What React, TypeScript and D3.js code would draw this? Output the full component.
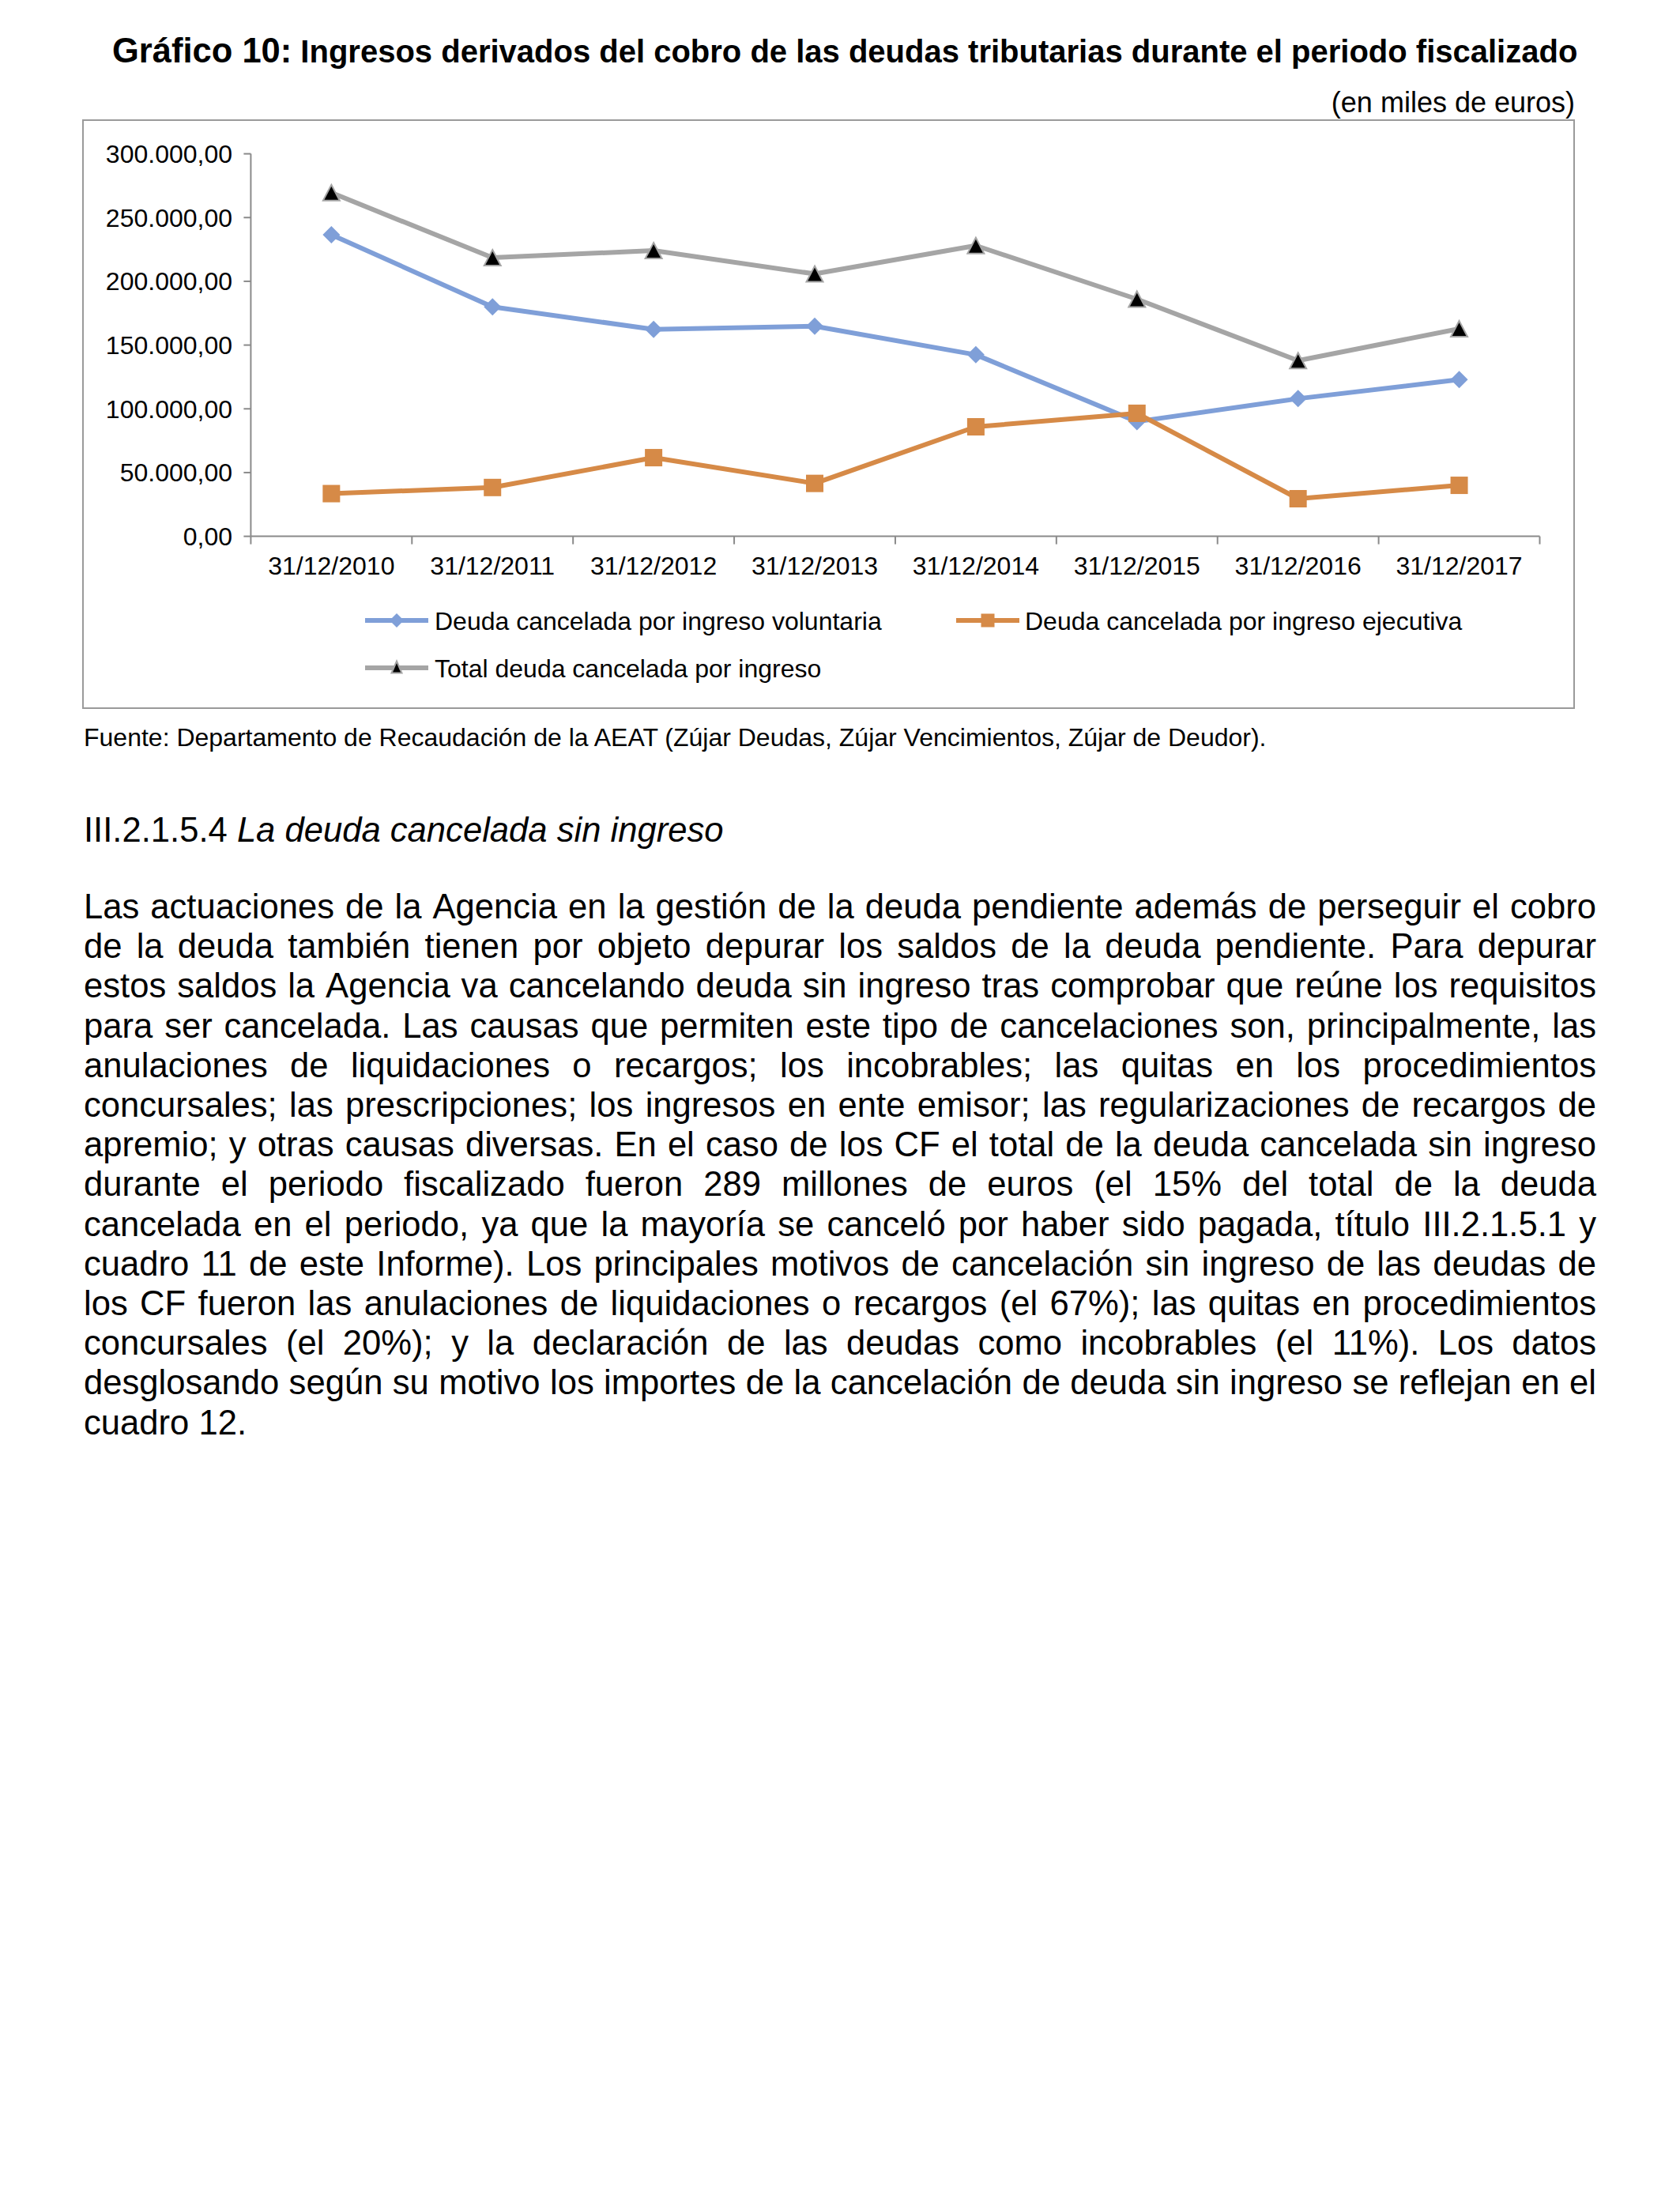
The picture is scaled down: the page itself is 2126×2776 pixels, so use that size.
import React, { useMemo } from "react";
import * as d3 from "d3";

const categories = [
  "31/12/2010", "31/12/2011", "31/12/2012", "31/12/2013",
  "31/12/2014", "31/12/2015", "31/12/2016", "31/12/2017",
];
const voluntaria = [236500, 180000, 162300, 164800, 142400, 90000, 108000, 122900];
const ejecutiva = [33500, 38300, 61700, 41500, 85900, 96500, 29500, 40000];
const total = [269500, 218500, 224100, 205800, 228000, 186000, 137800, 162800];
const yTicks = [0, 50000, 100000, 150000, 200000, 250000, 300000];

const seriesNames = [
  "Deuda cancelada por ingreso voluntaria",
  "Deuda cancelada por ingreso ejecutiva",
  "Total deuda cancelada por ingreso",
];

const titleBold = "Gráfico 10:";
const titleRest = "Ingresos derivados del cobro de las deudas tributarias durante el periodo fiscalizado";
const unitsText = "(en miles de euros)";
const sourceText = "Fuente: Departamento de Recaudación de la AEAT (Zújar Deudas, Zújar Vencimientos, Zújar de Deudor).";
const headingNum = "III.2.1.5.4 ";
const headingItalic = "La deuda cancelada sin ingreso";
const bodyLines = [
  "Las actuaciones de la Agencia en la gestión de la deuda pendiente además de perseguir el cobro",
  "de la deuda también tienen por objeto depurar los saldos de la deuda pendiente. Para depurar",
  "estos saldos la Agencia va cancelando deuda sin ingreso tras comprobar que reúne los requisitos",
  "para ser cancelada. Las causas que permiten este tipo de cancelaciones son, principalmente, las",
  "anulaciones de liquidaciones o recargos; los incobrables; las quitas en los procedimientos",
  "concursales; las prescripciones; los ingresos en ente emisor; las regularizaciones de recargos de",
  "apremio; y otras causas diversas. En el caso de los CF el total de la deuda cancelada sin ingreso",
  "durante el periodo fiscalizado fueron 289 millones de euros (el 15% del total de la deuda",
  "cancelada en el periodo, ya que la mayoría se canceló por haber sido pagada, título III.2.1.5.1 y",
  "cuadro 11 de este Informe). Los principales motivos de cancelación sin ingreso de las deudas de",
  "los CF fueron las anulaciones de liquidaciones o recargos (el 67%); las quitas en procedimientos",
  "concursales (el 20%); y la declaración de las deudas como incobrables (el 11%). Los datos",
  "desglosando según su motivo los importes de la cancelación de deuda sin ingreso se reflejan en el",
  "cuadro 12.",
];

const FONT = "'Liberation Sans', Arial, sans-serif";
const BLUE = "#7F9FD8";
const ORANGE = "#D68A47";
const GRAY = "#A5A5A5";
const AXIS = "#8A8A8A";

const fmt = (v: number) => {
  const s = d3.format(",.2f")(v);
  return s.replace(/,/g, "#").replace(/\./g, ",").replace(/#/g, ".");
};

function Diamond({ x, y, r, fill }: any) {
  return <path d={`M${x},${y - r}L${x + r},${y}L${x},${y + r}L${x - r},${y}Z`} fill={fill} />;
}
function Square({ x, y, s, fill }: any) {
  return <rect x={x - s / 2} y={y - s / 2} width={s} height={s} fill={fill} />;
}
function Tri({ x, y, w, h }: any) {
  return (
    <path
      d={`M${x},${y - h / 2}L${x + w / 2},${y + h / 2}L${x - w / 2},${y + h / 2}Z`}
      fill="#000"
      stroke={GRAY}
      strokeWidth={2}
    />
  );
}

export default function App() {
  const left = 317.4, right = 1948.5, top = 194.6, bottom = 678.6;
  const x = d3.scaleBand<string>().domain(categories).range([left, right]);
  const cx = (c: string) => (x(c) as number) + x.bandwidth() / 2;
  const y = d3.scaleLinear().domain([0, 300000]).range([bottom, top]);
  const line = d3
    .line<number>()
    .x((_, i) => cx(categories[i]))
    .y((d) => y(d));

  const bodyFont = 43.6;
  const bodyLeft = 106, bodyRight = 2020;
  const bodyTop = 1162, bodyStep = 50.2;
  const chartFont = 32;

  const justified = useMemo(() => {
    const canvas = document.createElement("canvas");
    const ctx = canvas.getContext("2d")!;
    ctx.font = `${bodyFont}px 'Liberation Sans', Arial, sans-serif`;
    return bodyLines.map((ln, li) => {
      const words = ln.split(" ");
      const widths = words.map((w) => ctx.measureText(w).width);
      const last = li === bodyLines.length - 1;
      const space = ctx.measureText(" ").width;
      const sum = widths.reduce((a, b) => a + b, 0);
      const gap = last || words.length < 2 ? space : (bodyRight - bodyLeft - sum) / (words.length - 1);
      let pos = bodyLeft;
      return words.map((w, i) => {
        const p = pos;
        pos += widths[i] + gap;
        return { w, x: p };
      });
    });
  }, []);

  const boundaries = d3.range(categories.length + 1).map((i) => left + i * x.bandwidth());

  return (
    <svg
      width={2126}
      height={2776}
      style={{ position: "absolute", left: 0, top: 0, background: "#fff" }}
      fontFamily={FONT}
    >
      <rect x={0} y={0} width={2126} height={2776} fill="#fff" />
      {/* Title */}
      <text x={142} y={79} fontWeight="bold" fill="#000">
        <tspan fontSize={43.5}>{titleBold}</tspan>
        <tspan fontSize={40}>{" " + titleRest}</tspan>
      </text>
      <text x={1993} y={142} fontSize={36} textAnchor="end" fill="#000">
        {unitsText}
      </text>

      {/* Chart frame */}
      <rect x={105} y={152} width={1887} height={744} fill="none" stroke="#9A9A9A" strokeWidth={2} />

      {/* Y axis */}
      <line x1={left} x2={left} y1={top} y2={bottom} stroke={AXIS} strokeWidth={2} />
      {yTicks.map((t) => (
        <g key={t}>
          <line x1={left - 9} x2={left} y1={y(t)} y2={y(t)} stroke={AXIS} strokeWidth={2} />
          <text x={294} y={y(t) + 11.5} fontSize={chartFont} textAnchor="end" fill="#000">
            {fmt(t)}
          </text>
        </g>
      ))}

      {/* X axis */}
      <line x1={left} x2={right} y1={bottom} y2={bottom} stroke={AXIS} strokeWidth={2} />
      {boundaries.map((b, i) => (
        <line key={i} x1={b} x2={b} y1={bottom} y2={bottom + 10} stroke={AXIS} strokeWidth={2} />
      ))}
      {categories.map((c) => (
        <text key={c} x={cx(c)} y={727} fontSize={chartFont} textAnchor="middle" fill="#000">
          {c}
        </text>
      ))}

      {/* Lines */}
      <path d={line(total) as string} fill="none" stroke={GRAY} strokeWidth={6} strokeLinejoin="round" />
      <path d={line(voluntaria) as string} fill="none" stroke={BLUE} strokeWidth={6} strokeLinejoin="round" />
      <path d={line(ejecutiva) as string} fill="none" stroke={ORANGE} strokeWidth={6} strokeLinejoin="round" />

      {voluntaria.map((v, i) => (
        <Diamond key={"v" + i} x={cx(categories[i])} y={y(v)} r={11} fill={BLUE} />
      ))}
      {ejecutiva.map((v, i) => (
        <Square key={"e" + i} x={cx(categories[i])} y={y(v)} s={22} fill={ORANGE} />
      ))}
      {total.map((v, i) => (
        <Tri key={"t" + i} x={cx(categories[i])} y={y(v)} w={21} h={20} />
      ))}

      {/* Legend */}
      <g>
        <line x1={462} x2={542} y1={785} y2={785} stroke={BLUE} strokeWidth={6} />
        <Diamond x={502} y={785} r={9} fill={BLUE} />
        <text x={550} y={796.5} fontSize={chartFont} fill="#000">{seriesNames[0]}</text>

        <line x1={1210} x2={1290} y1={785} y2={785} stroke={ORANGE} strokeWidth={6} />
        <Square x={1250} y={785} s={17} fill={ORANGE} />
        <text x={1297} y={796.5} fontSize={chartFont} fill="#000">{seriesNames[1]}</text>

        <line x1={462} x2={542} y1={845} y2={845} stroke={GRAY} strokeWidth={6} />
        <Tri x={502} y={844} w={13} h={15} />
        <text x={550} y={856.5} fontSize={chartFont} fill="#000">{seriesNames[2]}</text>
      </g>

      {/* Source */}
      <text x={106} y={944} fontSize={32} fill="#000">{sourceText}</text>

      {/* Heading */}
      <text x={106} y={1065} fontSize={bodyFont} fill="#000">
        <tspan>{headingNum}</tspan>
        <tspan fontStyle="italic">{headingItalic}</tspan>
      </text>

      {/* Body */}
      {justified.map((words, li) => (
        <text key={li} y={bodyTop + li * bodyStep} fontSize={bodyFont} fill="#000">
          {words.map((wd, wi) => (
            <tspan key={wi} x={wd.x}>{wd.w}</tspan>
          ))}
        </text>
      ))}
    </svg>
  );
}
